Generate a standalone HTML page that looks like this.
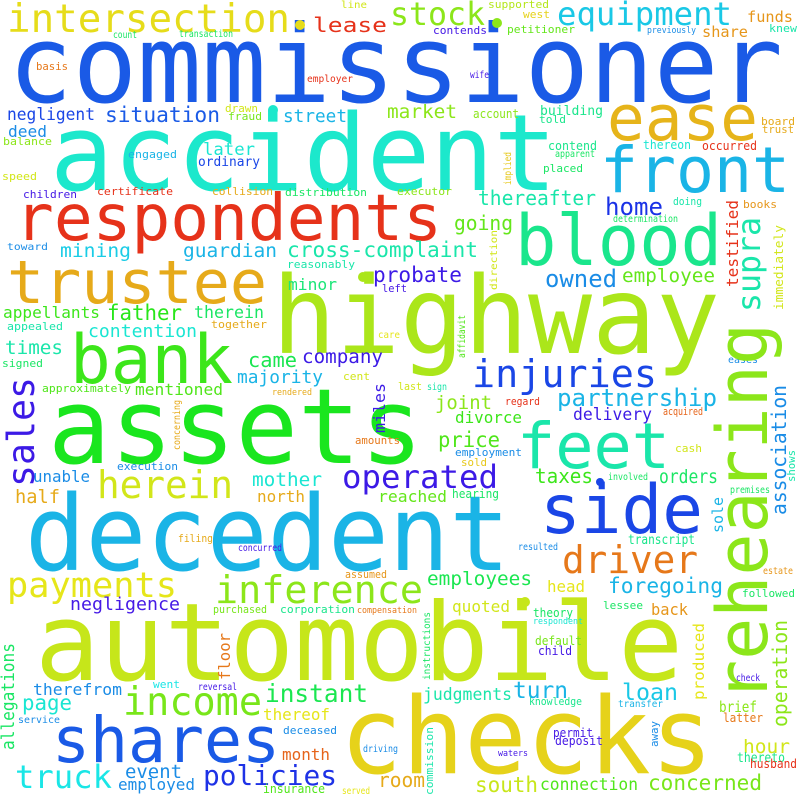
<!DOCTYPE html>
<html><head><meta charset="utf-8"><style>
html,body{margin:0;padding:0;background:#fff;}
svg{display:block;}
text{font-family:"DejaVu Sans Mono","Liberation Mono",monospace;}
</style></head><body>
<svg id="cloud" width="800" height="800" viewBox="0 0 800 800" xmlns="http://www.w3.org/2000/svg">
<rect width="800" height="800" fill="#ffffff"/>
</svg>
<script>
// [word, x, baselineY, fontSize, length, color, vertical]
const words = [
["commissioner",8,102,108,775,"#1a5ae6",0],
["accident",50,190,106,507,"#1ce8cc",0],
["highway",272,353,107,448,"#abe61a",0],
["assets",48,463,104,375,"#1ae61e",0],
["decedent",25,570,104,485,"#1ab4e6",0],
["automobile",35,680,108,648,"#c6e61a",0],
["checks",340,773,106,373,"#e6d21a",0],
["respondents",15,240,64,427,"#e6321a",0],
["trustee",7,303,60,260,"#e6aa1a",0],
["bank",70,383,68,163,"#3ce61a",0],
["blood",515,265,70,207,"#1ae68c",0],
["front",600,192,63,190,"#1ab4e6",0],
["ease",607,140,63,151,"#e6b41a",0],
["feet",517,468,63,153,"#1ae6aa",0],
["side",540,533,68,163,"#1a46e6",0],
["shares",52,762,63,228,"#1a5ae6",0],
["income",123,715,39,139,"#78e61a",0],
["inference",215,603,38,208,"#8ce61a",0],
["intersection",7,32,39,283,"#e6dc1a",0],
["stock",390,25,32,95,"#8ce61a",0],
["equipment",557,25,32,175,"#1ac8e6",0],
["lease",313,32,20,74,"#e6321a",0],
["injuries",472,387,38,185,"#1a46e6",0],
["driver",562,573,38,136,"#e6781a",0],
["herein",97,498,38,136,"#d2e61a",0],
["operated",342,488,32,156,"#3c1ae6",0],
["payments",7,597,35,170,"#e6e61a",0],
["truck",15,788,32,97,"#1ae6e6",0],
["policies",203,785,28,134,"#1e32e6",0],
["instant",265,702,25,103,"#1ae650",0],
["thereafter",478,205,20,118,"#1ae6aa",0],
["home",605,215,24,58,"#1a32e6",0],
["going",454,230,20,59,"#64e61a",0],
["cross-complaint",287,257,21,191,"#1ae6aa",0],
["guardian",183,257,19,94,"#1ab4e6",0],
["mining",60,257,19,71,"#1acce6",0],
["owned",545,287,24,72,"#1a8ce6",0],
["employee",622,282,19,93,"#64e61a",0],
["probate",373,282,21,89,"#3c1ae6",0],
["minor",288,290,16,49,"#1ae678",0],
["appellants",3,318,16,97,"#3ce61a",0],
["father",107,320,21,75,"#28e61a",0],
["therein",194,318,17,70,"#1ae664",0],
["contention",88,337,18,109,"#1ae6d2",0],
["times",5,354,19,58,"#1ae6aa",0],
["came",248,367,20,49,"#1ae650",0],
["company",302,363,19,81,"#3c1ae6",0],
["majority",237,383,18,86,"#1ab4e6",0],
["mentioned",135,395,16,88,"#50e61a",0],
["partnership",557,406,24,160,"#1ab4e6",0],
["joint",435,409,19,57,"#8ce61a",0],
["divorce",455,423,16,67,"#3ce61a",0],
["delivery",573,420,17,79,"#3c1ae6",0],
["price",438,447,21,62,"#50e61a",0],
["unable",33,482,16,57,"#1a8ce6",0],
["taxes",535,483,20,58,"#3ce61a",0],
["orders",659,483,19,59,"#1ae664",0],
["half",15,503,19,45,"#e6aa1a",0],
["mother",252,486,19,70,"#1ae6d2",0],
["north",257,502,16,48,"#e6aa1a",0],
["reached",378,502,16,69,"#64e61a",0],
["employees",427,585,19,105,"#1ae650",0],
["foregoing",608,593,21,115,"#1ab4e6",0],
["head",547,592,16,38,"#e6e61a",0],
["negligence",70,610,18,110,"#461ae6",0],
["quoted",452,612,16,58,"#d2e61a",0],
["back",651,615,16,37,"#e6961a",0],
["page",22,710,21,50,"#1ae6d2",0],
["therefrom",33,695,16,89,"#1a8ce6",0],
["turn",513,698,23,55,"#1ab4e6",0],
["loan",622,700,23,56,"#1ac8e6",0],
["judgments",423,700,17,89,"#1ae6aa",0],
["thereof",263,720,16,67,"#e6e61a",0],
["brief",719,712,15,38,"#8ce61a",0],
["hour",743,753,19,47,"#d2e61a",0],
["month",282,760,16,48,"#e6641a",0],
["event",125,778,19,57,"#1a8ce6",0],
["room",378,787,20,47,"#e6aa1a",0],
["south",475,792,21,63,"#c8e61a",0],
["connection",540,790,17,98,"#50e61a",0],
["concerned",648,790,21,114,"#78e61a",0],
["employed",118,790,16,77,"#1a8ce6",0],
["market",387,118,19,70,"#8ce61a",0],
["street",283,122,18,64,"#1ab4e6",0],
["situation",105,122,21,115,"#1a5ae6",0],
["later",203,155,17,52,"#1ae6d2",0],
["negligent",7,120,17,88,"#1a46e6",0],
["deed",8,137,16,39,"#1a8ce6",0],
["ordinary",198,166,13,62,"#1a46e6",0],
["supported",488,8,11,61,"#b4e61a",0],
["line",341,8,10,26,"#d2e61a",0],
["west",523,18,11,27,"#e6d21a",0],
["funds",747,22,15,46,"#e6961a",0],
["share",702,37,15,46,"#e6961a",0],
["count",113,38,10,24,"#1ae664",0],
["transaction",179,37,10,54,"#1ae664",0],
["contends",433,34,11,54,"#461ae6",0],
["petitioner",507,33,11,68,"#64e61a",0],
["previously",647,33,9,49,"#1a8ce6",0],
["knew",769,32,11,28,"#1ae6aa",0],
["basis",36,70,11,32,"#e6781a",0],
["employer",307,82,10,46,"#e6321a",0],
["wife",470,78,10,19,"#461ae6",0],
["drawn",225,112,11,33,"#d2e61a",0],
["fraud",228,120,11,34,"#78e61a",0],
["account",473,118,12,46,"#8ce61a",0],
["building",540,115,13,63,"#1ae68c",0],
["told",539,123,11,27,"#1ae68c",0],
["board",761,125,11,34,"#e6aa1a",0],
["trust",762,133,11,32,"#e6aa1a",0],
["balance",3,145,11,49,"#8ce61a",0],
["contend",548,150,12,49,"#1ae68c",0],
["thereon",643,149,12,48,"#1ae6d2",0],
["occurred",702,150,12,55,"#e6321a",0],
["engaged",128,158,11,49,"#1ab4e6",0],
["apparent",555,157,10,40,"#1ae664",0],
["placed",543,172,11,40,"#1ae664",0],
["speed",2,180,11,35,"#d2e61a",0],
["children",23,198,11,54,"#461ae6",0],
["certificate",97,195,11,76,"#e6321a",0],
["collision",212,195,11,61,"#e6aa1a",0],
["distribution",285,196,11,82,"#1ae664",0],
["executor",397,195,11,55,"#8ce61a",0],
["doing",673,205,11,29,"#1ae6aa",0],
["books",743,208,11,34,"#e6961a",0],
["determination",613,222,10,65,"#1ae664",0],
["toward",7,250,10,41,"#1a8ce6",0],
["reasonably",287,268,11,68,"#1ae6aa",0],
["left",382,292,11,25,"#461ae6",0],
["together",211,328,11,56,"#e6aa1a",0],
["appealed",7,330,11,56,"#1ae6aa",0],
["care",378,338,10,22,"#e6e61a",0],
["signed",2,367,11,41,"#1ae664",0],
["approximately",42,392,11,89,"#50e61a",0],
["rendered",272,395,9,40,"#e6aa1a",0],
["last",398,390,11,24,"#d2e61a",0],
["sign",427,390,10,20,"#1ae6aa",0],
["cent",343,380,11,27,"#d2e61a",0],
["eases",728,363,10,30,"#1a8ce6",0],
["regard",505,405,11,35,"#e6321a",0],
["acquired",663,415,11,40,"#e6641a",0],
["amounts",355,444,11,45,"#e6781a",0],
["employment",455,456,11,67,"#1a8ce6",0],
["sold",461,466,11,26,"#e6c81a",0],
["cash",675,452,11,27,"#d2e61a",0],
["execution",117,470,11,61,"#1a8ce6",0],
["involved",608,480,10,40,"#1ae664",0],
["hearing",452,498,12,47,"#1ae664",0],
["premises",730,493,10,40,"#1ae664",0],
["filing",178,542,11,35,"#e6aa1a",0],
["concurred",238,551,10,44,"#461ae6",0],
["transcript",628,544,13,67,"#1ae68c",0],
["resulted",518,550,10,40,"#1a8ce6",0],
["estate",763,574,10,30,"#e6961a",0],
["assumed",345,578,11,42,"#e6961a",0],
["followed",742,597,11,53,"#1ae664",0],
["purchased",213,613,11,54,"#78e61a",0],
["corporation",280,613,11,75,"#1ae68c",0],
["compensation",357,613,9,60,"#e6781a",0],
["lessee",603,609,11,40,"#1ae664",0],
["theory",533,617,12,40,"#1ae664",0],
["respondent",533,624,9,50,"#1ae6d2",0],
["default",535,645,12,47,"#78e61a",0],
["child",538,655,12,34,"#461ae6",0],
["went",153,688,11,27,"#1ae6e6",0],
["reversal",198,690,10,39,"#461ae6",0],
["check",736,681,10,24,"#461ae6",0],
["knowledge",529,705,11,53,"#1ae68c",0],
["transfer",618,707,10,45,"#1ab4e6",0],
["latter",723,722,12,40,"#e6781a",0],
["service",18,723,10,42,"#1a8ce6",0],
["deceased",283,734,11,54,"#1a8ce6",0],
["permit",553,737,12,40,"#461ae6",0],
["deposit",555,745,12,48,"#461ae6",0],
["driving",363,752,10,35,"#1a8ce6",0],
["waters",498,756,9,30,"#461ae6",0],
["thereto",737,762,13,48,"#1ae68c",0],
["husband",750,768,12,47,"#e6321a",0],
["insurance",263,793,12,62,"#50e61a",0],
["served",342,794,10,28,"#e6e61a",0],
["sales",34,487,37,110,"#3c1ae6",1],
["supra",760,312,32,95,"#1ae6aa",1],
["rehearing",767,702,70,379,"#8ce61a",1],
["testified",738,287,16,87,"#e6321a",1],
["immediately",783,310,12,85,"#d2e61a",1],
["implied",511,185,10,33,"#e6c81a",1],
["direction",497,290,10,60,"#d2e61a",1],
["affidavit",465,358,10,43,"#50e61a",1],
["concerning",180,450,10,50,"#e6aa1a",1],
["miles",385,433,16,50,"#3c1ae6",1],
["association",786,515,20,130,"#1a8ce6",1],
["shows",795,482,11,32,"#1ae6aa",1],
["sole",723,533,15,36,"#1ab4e6",1],
["floor",230,680,16,47,"#e6781a",1],
["instructions",430,680,10,68,"#1ae664",1],
["produced",704,700,15,77,"#e6e61a",1],
["operation",787,727,20,107,"#8ce61a",1],
["allegations",14,750,18,107,"#1ae664",1],
["away",658,747,11,26,"#1a8ce6",1],
["commission",433,795,11,68,"#1ae6aa",1]
];
// stray period marks: [cx, cy, r, color]
const dots = [[300,25,5,"#e6dc1a"],[497,23,5,"#8ce61a"],[273,110,5,"#1ce8cc"],[363,277,5,"#abe61a"],[525,602,5,"#c6e61a"],[600,482,4,"#1a46e6"]];
const svg = document.getElementById('cloud');
const NS = 'http://www.w3.org/2000/svg';
for (const w of words) {
  const [t, x, y, fs, len, col, v] = w;
  const el = document.createElementNS(NS, 'text');
  el.textContent = t;
  el.setAttribute('x', x);
  el.setAttribute('y', y);
  el.setAttribute('font-size', fs);
  el.setAttribute('fill', col);
  el.setAttribute('textLength', len);
  el.setAttribute('lengthAdjust', 'spacingAndGlyphs');
  if (v) el.setAttribute('transform', 'rotate(-90 ' + x + ' ' + y + ')');
  
  
  svg.appendChild(el);
}
for (const d of dots) {
  const c = document.createElementNS(NS, 'circle');
  c.setAttribute('cx', d[0]);
  c.setAttribute('cy', d[1]);
  c.setAttribute('r', d[2]);
  c.setAttribute('fill', d[3]);
  
  
  svg.appendChild(c);
}
</script>
</body></html>
